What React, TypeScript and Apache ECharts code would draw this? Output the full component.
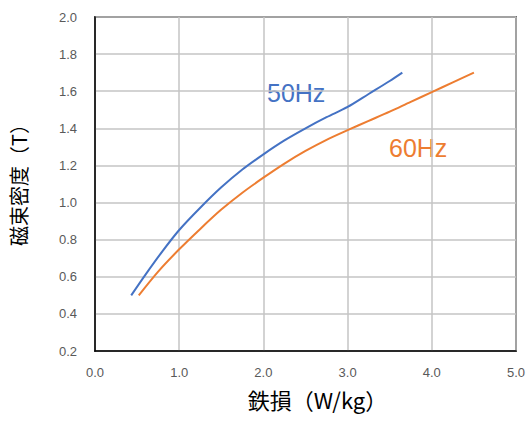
import { useEffect, useRef } from 'react';
import * as echarts from 'echarts';

// Iron loss (W/kg) vs flux density (T)
const hz50Loss = [0.43, 0.6, 0.8, 1.0, 1.25, 1.5, 1.75, 2.0, 2.25, 2.5, 2.75, 3.0, 3.25, 3.5, 3.65];
const hz50Flux = [0.5, 0.612, 0.737, 0.852, 0.972, 1.082, 1.178, 1.26, 1.335, 1.4, 1.46, 1.515, 1.585, 1.655, 1.7];
const hz60Loss = [0.52, 0.75, 1.0, 1.25, 1.5, 1.75, 2.0, 2.25, 2.5, 2.75, 3.0, 3.25, 3.5, 3.75, 4.0, 4.25, 4.5];
const hz60Flux = [0.5, 0.628, 0.748, 0.858, 0.962, 1.053, 1.134, 1.21, 1.278, 1.338, 1.39, 1.44, 1.49, 1.543, 1.595, 1.648, 1.7];

const seriesLabels = ['50Hz', '60Hz'];
const seriesColors = ['#4472C4', '#ED7D31'];

const pairs = (xs: number[], ys: number[]) => xs.map((x, i) => [x, ys[i]]);

export default function App() {
    const chartRef = useRef<HTMLDivElement>(null);

    useEffect(() => {
        if (!chartRef.current) return;
        const chart = echarts.init(chartRef.current, undefined, { renderer: 'svg' });

        const tickFont = {
            color: '#595959',
            fontSize: 13,
            fontFamily: 'Liberation Sans',
        };
        const nameFont = {
            color: '#000',
            fontFamily: 'Noto Sans CJK JP',
        };
        const gridLine = { show: true, lineStyle: { color: '#c4c4c4', width: 1.5 } };

        const option: echarts.EChartsOption = {
            animation: false,
            backgroundColor: '#fff',
            grid: {
                left: 94,
                right: 14,
                top: 17,
                bottom: 72,
                show: true,
                borderColor: '#000',
                borderWidth: 1.5,
            },
            xAxis: {
                type: 'value',
                min: 0,
                max: 5,
                interval: 1,
                name: '鉄損（W/kg）',
                nameLocation: 'middle',
                nameGap: 37,
                nameTextStyle: { ...nameFont, fontSize: 22, padding: [0, 0, 0, 24] },
                axisLine: { show: true, lineStyle: { color: '#000', width: 1.5 } },
                axisTick: { show: false },
                axisLabel: { ...tickFont, margin: 15, formatter: (v: number) => v.toFixed(1) },
                splitLine: gridLine,
            },
            yAxis: {
                type: 'value',
                min: 0.2,
                max: 2.0,
                interval: 0.2,
                name: '磁束密度（T）',
                nameLocation: 'middle',
                nameGap: 67,
                nameRotate: 90,
                nameTextStyle: { ...nameFont, fontSize: 20, padding: [0, 0, 0, 8] },
                axisLine: { show: true, lineStyle: { color: '#000', width: 1.5 } },
                axisTick: { show: false },
                axisLabel: { ...tickFont, margin: 18, formatter: (v: number) => v.toFixed(1) },
                splitLine: gridLine,
            },
            series: [
                {
                    name: seriesLabels[0],
                    type: 'line',
                    data: pairs(hz50Loss, hz50Flux),
                    smooth: 0.3,
                    showSymbol: false,
                    lineStyle: { color: seriesColors[0], width: 2 },
                },
                {
                    name: seriesLabels[1],
                    type: 'line',
                    data: pairs(hz60Loss, hz60Flux),
                    smooth: 0.3,
                    showSymbol: false,
                    lineStyle: { color: seriesColors[1], width: 2 },
                },
            ],
            graphic: [
                {
                    type: 'text',
                    left: 267,
                    top: 80,
                    style: {
                        text: seriesLabels[0],
                        fill: seriesColors[0],
                        fontSize: 25,
                        fontFamily: 'Liberation Sans',
                    },
                },
                {
                    type: 'text',
                    left: 389,
                    top: 135,
                    style: {
                        text: seriesLabels[1],
                        fill: seriesColors[1],
                        fontSize: 25,
                        fontFamily: 'Liberation Sans',
                    },
                },
            ],
        };

        chart.setOption(option);

        return () => {
            chart.dispose();
        };
    }, []);

    return (
        <div
            ref={chartRef}
            style={{ position: 'fixed', left: 0, top: 0, width: '530px', height: '423px' }}
        />
    );
}
